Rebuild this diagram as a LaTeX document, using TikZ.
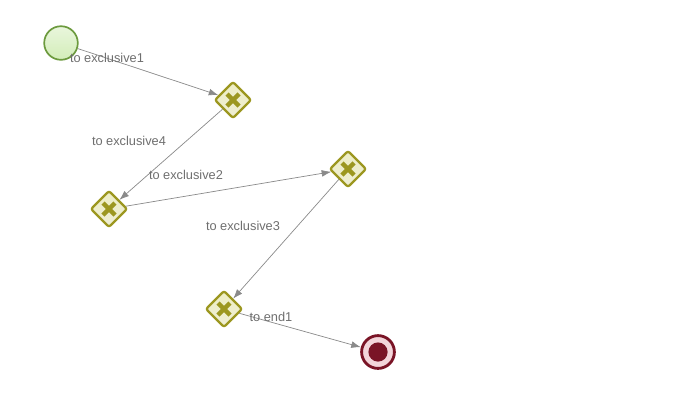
\documentclass[tikz,border=0pt]{standalone}
\usepackage{fontspec}
\setmainfont{Liberation Sans}
\usetikzlibrary{arrows.meta,positioning,shapes.geometric}
\definecolor{olive}{HTML}{9C9720}
\definecolor{olivepale}{HTML}{EEEEC4}
\definecolor{leaf}{HTML}{6C9A3E}
\definecolor{leafpale}{HTML}{D3EDB9}
\definecolor{wine}{HTML}{7A1426}
\definecolor{winepale}{HTML}{F3D5DA}
\definecolor{linegray}{HTML}{8A8A8A}
\definecolor{labelgray}{HTML}{6E6E6E}
\tikzset{gateway/.style={diamond,aspect=1,draw=olive,line width=1.6pt,rounded corners=1.5pt,top color=olivepale,bottom color=olivepale!70!olive!40,minimum size=0.92cm,inner sep=0pt,
  path picture={\draw[olive,line width=3.2pt] ([shift={(-0.15cm,-0.15cm)}]path picture bounding box.center)--([shift={(0.15cm,0.15cm)}]path picture bounding box.center);
   \draw[olive,line width=3.2pt] ([shift={(-0.15cm,0.15cm)}]path picture bounding box.center)--([shift={(0.15cm,-0.15cm)}]path picture bounding box.center);}},
 startev/.style={circle,draw=leaf,line width=1.2pt,top color=leafpale!50,bottom color=leafpale,minimum size=0.84cm,inner sep=0pt},
 endev/.style={circle,draw=wine,line width=2pt,fill=winepale,minimum size=0.82cm,inner sep=0pt,
  path picture={\fill[wine] (path picture bounding box.center) circle (0.24cm);}},
 flow/.style={-{Latex[length=2.4mm,width=1.7mm]},draw=linegray,line width=0.5pt},
 lbl/.style={font=\fontsize{9.1}{11}\selectfont,text=labelgray,inner sep=0pt}}
\begin{document}
\begin{tikzpicture}[x=0.025cm,y=-0.025cm]
\useasboundingbox (0,0) rectangle (694,404);
\node[startev] (start) at (61,43) {};
\node[gateway] (ex1) at (233,100) {};
\node[gateway] (ex4) at (109,209) {};
\node[gateway] (ex2) at (348,169) {};
\node[gateway] (ex3) at (224,309) {};
\node[endev] (end) at (378,352) {};
\draw[flow] (start)--(ex1);
\draw[flow] (ex1)--(ex4);
\draw[flow] (ex4)--(ex2);
\draw[flow] (ex2)--(ex3);
\draw[flow] (ex3)--(end);
\node[lbl] (l1) at (107,58) {to exclusive1};
\node[lbl] (l4) at (129,141) {to exclusive4};
\node[lbl] (l2) at (186,175) {to exclusive2};
\node[lbl] (l3) at (243,226) {to exclusive3};
\node[lbl] (l5) at (271,317) {to end1};
\end{tikzpicture}
\end{document}
